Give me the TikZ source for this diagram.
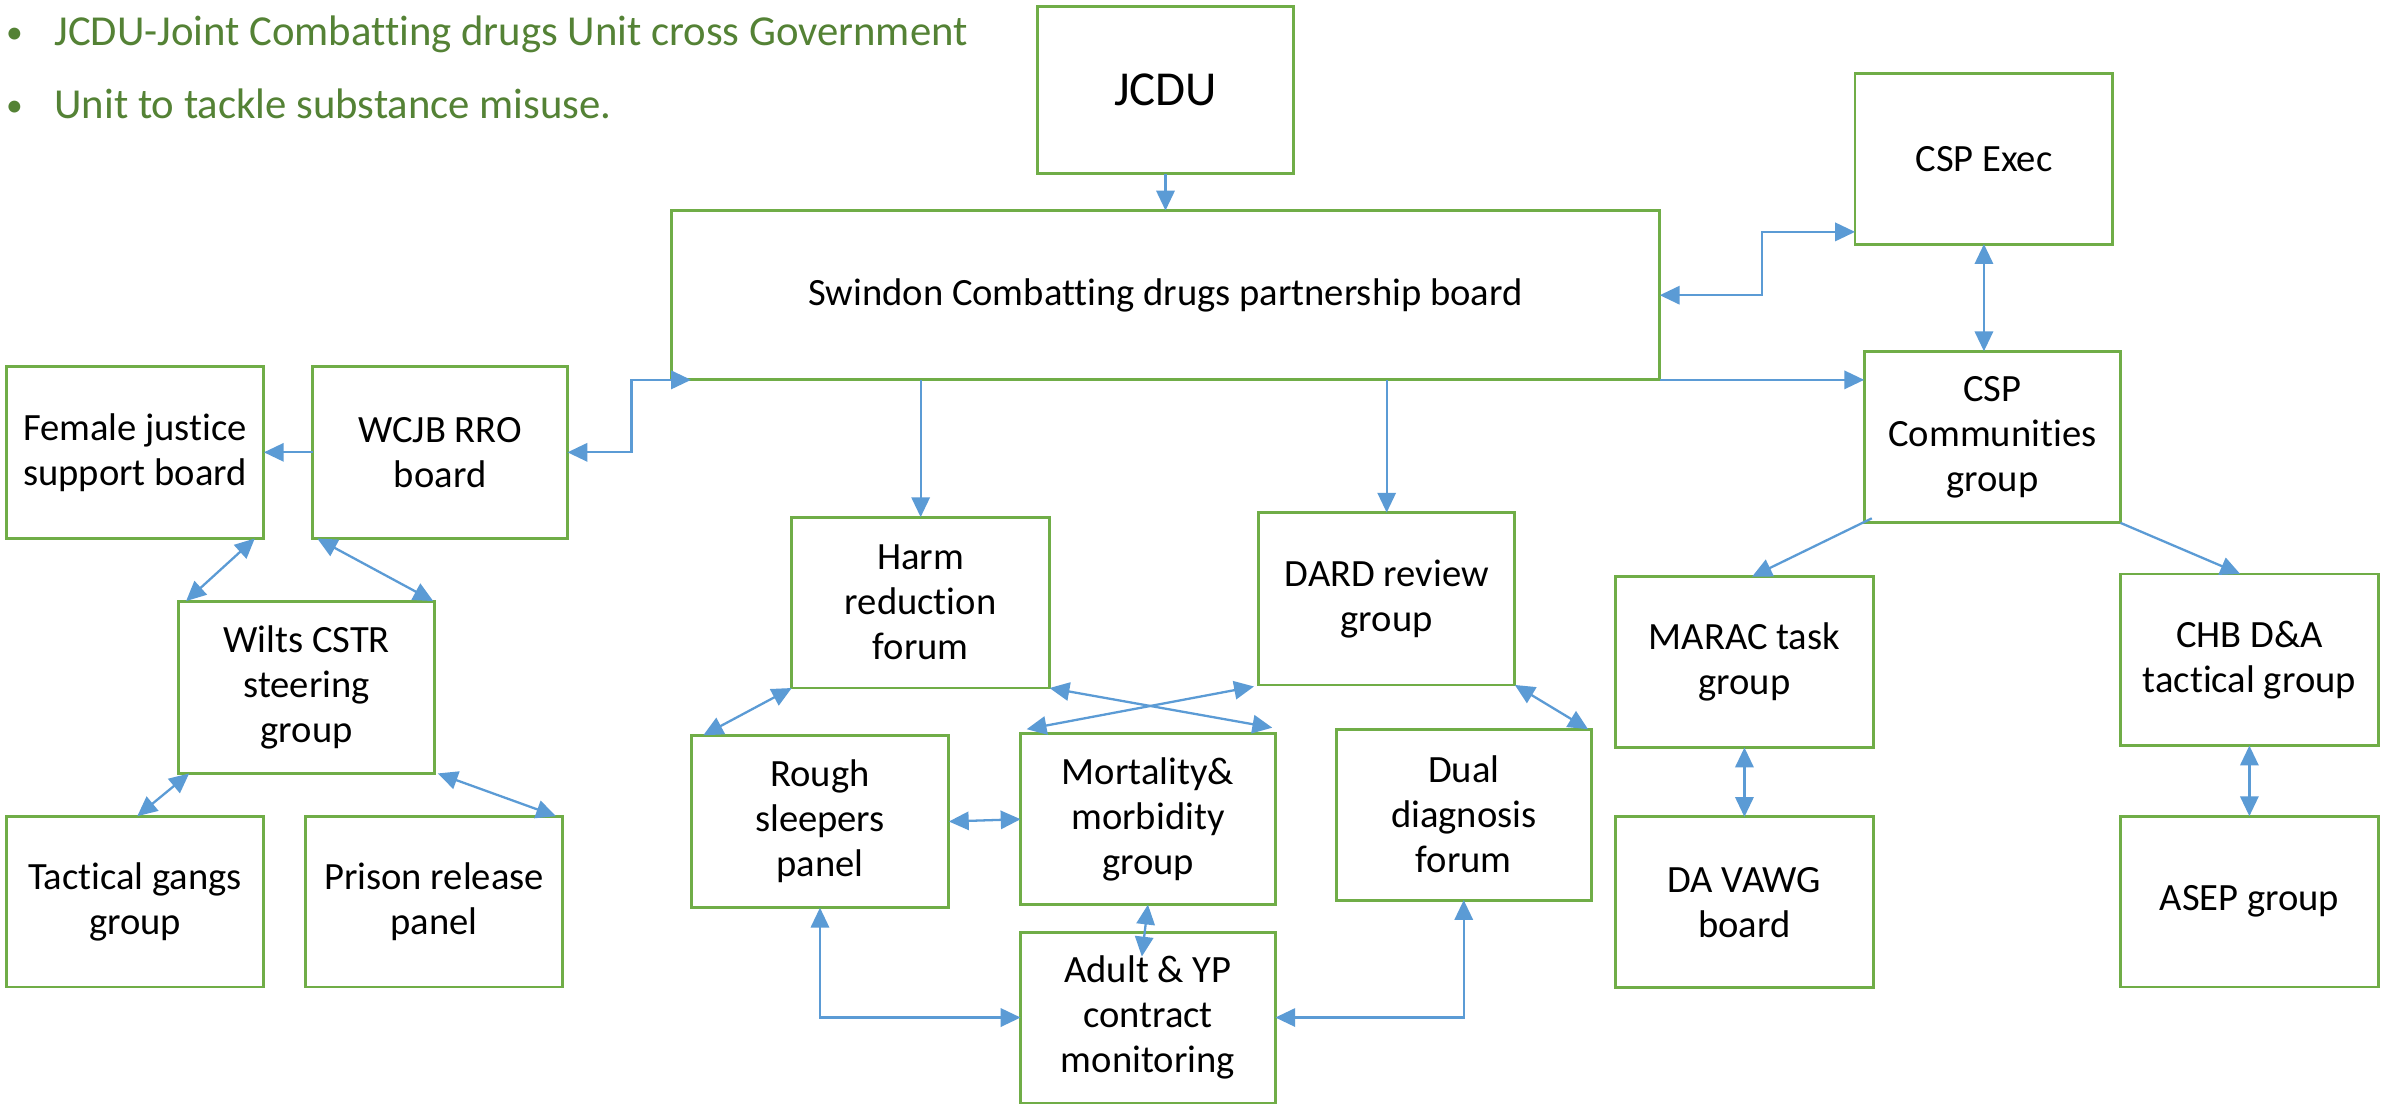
\documentclass[tikz,border=0pt]{standalone}
\usepackage{fontspec}
\setmainfont{Carlito}[Ligatures={NoCommon}]
\usetikzlibrary{arrows.meta,calc}
\definecolor{boxgreen}{HTML}{70AD47}
\definecolor{arrowblue}{HTML}{5B9BD5}
\definecolor{textgreen}{HTML}{548235}
\begin{document}
\begin{tikzpicture}[x=1pt,y=-1pt,
  box/.style={draw=boxgreen, line width=1.9pt, inner sep=2pt, outer sep=0pt, align=center,
    font=\fontsize{25.3}{29.5}\selectfont, text=black},
  conn/.style={draw=arrowblue, line width=1.5pt},
  sa/.style={conn, -{Triangle[length=13pt,width=12pt]}},
  da/.style={conn, {Triangle[length=13pt,width=12pt]}-{Triangle[length=13pt,width=12pt]}},
  bul/.style={text=textgreen, font=\fontsize{28}{34}\selectfont, inner sep=0pt}
]
\fill[white] (0,0) rectangle (1568,724);
\useasboundingbox (0,0) rectangle (1568,724);

% bullets
\node[bul, anchor=base, font=\fontsize{22}{26}\selectfont] (d1) at (9.5,28.5) {•};
\node[bul, anchor=base west] (b1) at (35.5,29.5) {JCDU-Joint Combatting drugs Unit cross Government};
\node[bul, anchor=base, font=\fontsize{22}{26}\selectfont] (d2) at (9.5,76.5) {•};
\node[bul, anchor=base west] (b2) at (35.5,77.5) {Unit to tackle substance misuse.};

% boxes
\node[box, minimum width=168pt, minimum height=110pt, font=\fontsize{32}{38}\selectfont] (jcdu) at (764,59) {JCDU};
\node[box, minimum width=648pt, minimum height=111pt] (swindon) at (764,193.5) {Swindon Combatting drugs partnership board};
\node[box, minimum width=169pt, minimum height=112pt] (cspexec) at (1300.5,104) {CSP Exec};
\node[box, minimum width=168pt, minimum height=112.5pt] (cspcom) at (1306,286.5) {CSP\\Communities\\group};
\node[box, minimum width=167pt, minimum height=113pt] (wcjb) at (288.5,296.5) {WCJB RRO\\board};
\node[box, minimum width=169pt, minimum height=113pt] (female) at (88.5,296.5) {Female justice\\support board};
\node[box, minimum width=168pt, minimum height=113pt] (wilts) at (201,450.5) {Wilts CSTR\\steering\\group};
\node[box, minimum width=169pt, minimum height=112pt] (tactical) at (88.5,591) {Tactical gangs\\group};
\node[box, minimum width=168pt, minimum height=112pt] (prison) at (284.5,591) {Prison release\\panel};
\node[box, minimum width=169pt, minimum height=112pt] (harm) at (603.5,395) {Harm\\reduction\\forum};
\node[box, minimum width=168pt, minimum height=113pt] (dard) at (909,392.5) {DARD review\\group};
\node[box, minimum width=169pt, minimum height=113pt] (rough) at (537.5,538.5) {Rough\\sleepers\\panel};
\node[box, minimum width=167pt, minimum height=112pt] (mort) at (752.5,537) {Mortality\&\\morbidity\\group};
\node[box, minimum width=167pt, minimum height=112pt] (dual) at (959.5,534) {Dual\\diagnosis\\forum};
\node[box, minimum width=167pt, minimum height=112pt] (adult) at (752.5,667) {Adult \& YP\\contract\\monitoring};
\node[box, minimum width=169pt, minimum height=112pt] (marac) at (1143.5,434) {MARAC task\\group};
\node[box, minimum width=169pt, minimum height=112pt] (davawg) at (1143.5,591.5) {DA VAWG\\board};
\node[box, minimum width=169pt, minimum height=112.5pt] (chb) at (1474.5,432.5) {CHB D\&A\\tactical group};
\node[box, minimum width=169pt, minimum height=112pt] (asep) at (1474.5,591) {ASEP group};

% connectors
\draw[sa] (jcdu.south) -- (swindon.north);
\draw[da] (swindon.east) -- ++(67,0) |- ($(cspexec.south west)+(0,-8)$);
\draw[sa] (swindon.south east) -- (swindon.south east -| cspcom.west);
\draw[da] (cspexec.south) -- (cspexec.south |- cspcom.north);
\draw[da] (wcjb.east) -- ++(42,0) |- ($(swindon.south west)+(13,0)$);
\draw[sa] (wcjb.west) -- (female.east);
\draw[da] ($(female.south east)+(-6,0)$) -- ($(wilts.north west)+(5,0)$);
\draw[da] ($(wcjb.south west)+(3,0)$) -- ($(wilts.north east)+(-1,0)$);
\draw[da] ($(wilts.south west)+(7,0)$) -- ($(tactical.north)+(1.5,0)$);
\draw[da] ($(wilts.south east)+(2,0)$) -- ($(prison.north east)+(-4,0)$);
\draw[sa] (swindon.south -| harm.north) -- (harm.north);
\draw[sa] (swindon.south -| dard.north) -- (dard.north);
\draw[da] (harm.south west) -- ($(rough.north west)+(8,0)$);
\draw[da] (harm.south east) -- ($(mort.north east)+(-2,-4)$);
\draw[da] ($(dard.south west)+(-3,1)$) -- ($(mort.north west)+(4,-3)$);
\draw[da] (dard.south east) -- ($(dual.north east)+(-2,0)$);
\draw[da] (rough.east) -- (mort.west);
\draw[da] (mort.south) -- ($(adult.north)+(-4,16)$);
\draw[da] (rough.south) |- (adult.west);
\draw[da] (dual.south) |- (adult.east);
\draw[sa] ($(cspcom.south west)+(5,-3)$) -- ($(marac.north)+(5,0)$);
\draw[sa] (cspcom.south east) -- ($(chb.north)+(-6,0)$);
\draw[da] (marac.south) -- (davawg.north);
\draw[da] (chb.south) -- (asep.north);
\end{tikzpicture}
\end{document}
